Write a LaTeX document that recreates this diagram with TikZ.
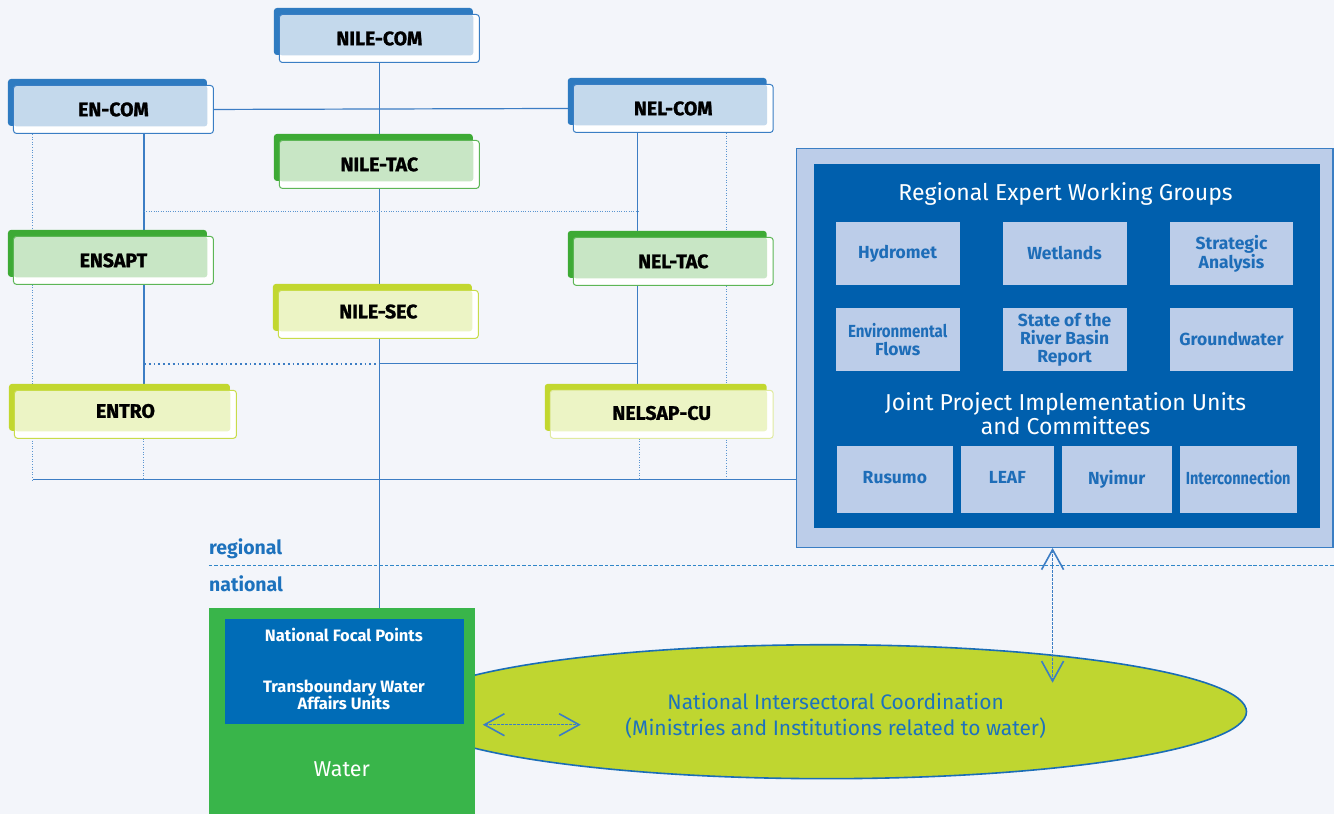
\documentclass[tikz,border=0pt]{standalone}
\usepackage{fontspec}
\setmainfont{Fira Sans}
\newfontfamily\heavyfont[FakeBold=1.2]{Fira Sans}
\usepackage{graphicx}
\usetikzlibrary{arrows.meta,shapes.geometric}
\definecolor{bgc}{HTML}{F3F5FA}
\definecolor{lineblue}{HTML}{3C7DC4}
\definecolor{dotblue}{HTML}{5B95D0}
\definecolor{bdark}{HTML}{2E7BC1}
\definecolor{blight}{HTML}{C4D9EC}
\definecolor{bborder}{HTML}{3A7EC4}
\definecolor{gdark}{HTML}{3DAA35}
\definecolor{glight}{HTML}{C8E6C5}
\definecolor{gborder}{HTML}{5DB656}
\definecolor{ldark}{HTML}{C2D72F}
\definecolor{llight}{HTML}{ECF4C5}
\definecolor{lborder}{HTML}{C8DC4A}
\definecolor{lborderpale}{HTML}{E0EAA0}
\definecolor{panelouter}{HTML}{BCCDE9}
\definecolor{panelborder}{HTML}{3A7EC4}
\definecolor{panelinner}{HTML}{005FAD}
\definecolor{wgtext}{HTML}{1E6DB8}
\definecolor{ellfill}{HTML}{BFD630}
\definecolor{ellborder}{HTML}{1A6DB6}
\definecolor{watergreen}{HTML}{39B54A}
\definecolor{waterblue}{HTML}{006CB7}
\definecolor{labelblue}{HTML}{1D72BD}
\definecolor{regline}{HTML}{2F86C8}
\pgfdeclarelayer{bglayer}
\pgfdeclarelayer{lineslayer}
\pgfsetlayers{bglayer,lineslayer,main}
\newcommand\orgbox[8]{%
  \fill[#5, rounded corners=3pt] (#2,#3) rectangle ++(#4,47);
  \node[obox, draw=#7, minimum width={#4+1}, anchor=north west,
    path picture={\fill[#6] (path picture bounding box.north west) rectangle ([xshift=-6pt,yshift=7pt]path picture bounding box.south east);}]
    (#1) at (#2+5,#3+6) {#8};%
}
\begin{document}
\begin{tikzpicture}[x=1pt,y=-1pt,
  obox/.style={fill=white, line width=1pt, rounded corners=3pt, minimum height=48, inner sep=0,
    font=\fontsize{19.5}{20}\heavyfont\bfseries, text=black},
  solidline/.style={draw=lineblue, line width=1.2pt},
  dotline/.style={draw=dotblue, line width=1pt, dash pattern=on 1pt off 1.6pt},
  finedot/.style={draw=dotblue, line width=0.9pt, dash pattern=on 1pt off 1.4pt},
  bigdot/.style={draw=lineblue, line width=1.8pt, dash pattern=on 1.8pt off 3pt},
  wg/.style={fill=panelouter, inner sep=0, minimum width=124, minimum height=63, text=wgtext,
    align=center, font=\fontsize{17.5}{18}\selectfont\bfseries},
  jp/.style={fill=panelouter, inner sep=0, minimum height=67, text=wgtext,
    align=center, font=\fontsize{17.5}{18}\selectfont\bfseries, anchor=north west},
  darrow/.style={draw=lineblue, line width=1pt, dash pattern=on 2.5pt off 1.5pt,
    {Straight Barb[length=20pt,width=22pt,line width=1.6pt]}-{Straight Barb[length=20pt,width=22pt,line width=1.6pt]}},
]
\begin{pgfonlayer}{bglayer}
  \fill[bgc] (0,0) rectangle (1335,814);
\end{pgfonlayer}

% organisation boxes
\orgbox{nilecom}{274}{8}{199}{bdark}{blight}{bborder}{NILE-COM}
\orgbox{encom}{8}{79}{199}{bdark}{blight}{bborder}{EN-COM}
\orgbox{nelcom}{568}{78}{199}{bdark}{blight}{bborder}{NEL-COM}
\orgbox{niletac}{274}{134}{199}{gdark}{glight}{gborder}{NILE-TAC}
\orgbox{ensapt}{8}{230}{199}{gdark}{glight}{gborder}{ENSAPT}
\orgbox{neltac}{568}{231}{199}{gdark}{glight}{gborder}{NEL-TAC}
\orgbox{nilesec}{273}{284}{199}{ldark}{llight}{lborder}{\raisebox{6pt}{NILE-SEC}}
\orgbox{entro}{9}{384}{221}{ldark}{llight}{lborder}{\raisebox{7pt}{ENTRO}}
\orgbox{nelsapcu}{545}{384}{222}{ldark}{llight}{lborderpale}{\raisebox{3pt}{NELSAP-CU}}

% right panel
\node[draw=panelborder, fill=panelouter, line width=1.2pt, minimum width=537, minimum height=399,
  anchor=north west, inner sep=0] (panel) at (796,148) {};
\node[fill=panelinner, minimum width=506, minimum height=364, anchor=north west, inner sep=0]
  (panelin) at (814,164) {};
\node[text=white, font=\fontsize{23}{24}\selectfont] (rewg) at (1066,194) {Regional Expert Working Groups};
\node[wg] (hydromet) at (898,253.5) {Hydromet};
\node[wg] (wetlands) at (1065,253.5) {Wetlands};
\node[wg] (strategic) at (1232,253.5) {Strategic\\Analysis};
\node[wg] (envflows) at (898,339.5) {\scalebox{0.86}[1]{Environmental}\\Flows};
\node[wg] (sorb) at (1065,339.5) {State of the\\River Basin\\Report};
\node[wg] (groundwater) at (1232,339.5) {Groundwater};
\node[text=white, font=\fontsize{23}{22}\selectfont, align=center] (jpiu) at (1066,414)
  {Joint Project Implementation Units\\and Committees};
\node[jp, minimum width=116] (rusumo) at (837,446) {\raisebox{5pt}{Rusumo}};
\node[jp, minimum width=93] (leaf) at (961,446) {\raisebox{5pt}{LEAF}};
\node[jp, minimum width=110] (nyimur) at (1062,446) {\raisebox{5pt}{Nyimur}};
\node[jp, minimum width=117] (interconn) at (1180,446) {\raisebox{5pt}{\scalebox{0.83}[1]{Interconnection}}};

% regional / national
\coordinate (regL) at (209,566);
\coordinate (regR) at (1335,566);
\draw[draw=regline, line width=1.1pt, dash pattern=on 3.5pt off 2pt] (regL) -- (regR);
\node[anchor=west, text=labelblue, font=\fontsize{19.5}{20}\selectfont\bfseries, inner sep=0] (reglabel) at (209,549) {regional};
\node[anchor=west, text=labelblue, font=\fontsize{19.5}{20}\selectfont\bfseries, inner sep=0] (natlabel) at (209,584) {national};

% ellipse
\node[ellipse, draw=ellborder, fill=ellfill, line width=1.6pt, minimum width=840, minimum height=134, inner sep=0]
  (nic) at (827,712) {};
\node[text=labelblue, align=center, font=\fontsize{21}{26}\selectfont] (nictext) at (836,716)
  {National Intersectoral Coordination\\(Ministries and Institutions related to water)};

% water box
\node[fill=watergreen, minimum width=266, minimum height=206, anchor=north west, inner sep=0] (water) at (209,608) {};
\node[fill=waterblue, minimum width=239, minimum height=105, anchor=north west, inner sep=0] (nfpbox) at (225,619) {};
\node[text=white, font=\fontsize{16.5}{17}\selectfont\bfseries] (nfp) at (344,635) {National Focal Points};
\node[text=white, font=\fontsize{16.5}{17.5}\selectfont\bfseries, align=center] (twau) at (344,695)
  {Transboundary Water\\Affairs Units};
\node[text=white, font=\fontsize{21.5}{22}\selectfont] (watertext) at (342,770) {Water};

% arrows
\coordinate (vtip) at (1053,683);
\draw[darrow] (panel.south -| vtip) -- (vtip);
\coordinate (hL) at (483,725);
\coordinate (hR) at (581,725);
\draw[darrow] (hL) -- (hR);

% connectors
\coordinate (cL) at (33,0);
\coordinate (cA) at (144,0);
\coordinate (cB) at (638,0);
\coordinate (cB2) at (640,0);
\coordinate (cR) at (727,0);
\coordinate (cM) at (379,0);
\coordinate (rD1) at (0,212);
\coordinate (rD2) at (0,364);
\coordinate (rH) at (0,480);
\begin{pgfonlayer}{lineslayer}
  \draw[solidline] (nilecom.south) -- (nilecom.south |- water.north);
  \draw[solidline] (encom.east) -- (nelcom.west);
  \draw[solidline] (encom.south -| cA) -- (entro.north -| cA);
  \draw[solidline] (nelcom.south -| cB) -- (nelsapcu.north -| cB);
  \draw[dotline] (entro.south -| cA) -- (rH -| cA);
  \draw[dotline] (nelsapcu.south -| cB2) -- (rH -| cB2);
  \draw[dotline] (encom.south -| cL) -- (rH -| cL);
  \draw[dotline] (nelcom.south -| cR) -- (rH -| cR);
  \draw[solidline] (rH -| cL) -- (panel.west |- rH);
  \draw[finedot] (rD1 -| cA) -- (rD1 -| cB2);
  \draw[bigdot] (rD2 -| cA) -- (rD2 -| cM);
  \draw[solidline] (rD2 -| cM) -- (rD2 -| cB);
\end{pgfonlayer}
\end{tikzpicture}
\end{document}
